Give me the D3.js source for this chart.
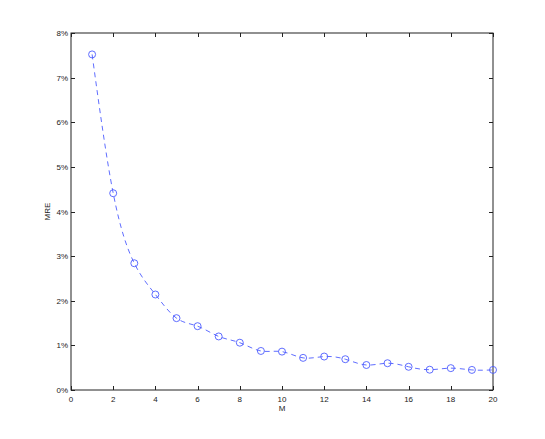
<!DOCTYPE html>
<html><head><meta charset="utf-8">
<script src="https://cdn.jsdelivr.net/npm/d3@7"></script>
<style>body{margin:0;background:#fff}svg{display:block}</style>
</head><body><svg id="c" width="545" height="439"></svg>
<script>
const M = [1,2,3,4,5,6,7,8,9,10,11,12,13,14,15,16,17,18,19,20];
const MRE = [7.52,4.41,2.84,2.14,1.61,1.43,1.20,1.06,0.875,0.86,0.72,0.75,0.69,0.56,0.60,0.52,0.455,0.49,0.45,0.45];
const xTicks = [0,2,4,6,8,10,12,14,16,18,20];
const yTicks = [0,1,2,3,4,5,6,7,8];

const svg = d3.select("#c");
const L=71, R=493, T=33, B=390;
const x = d3.scaleLinear().domain([0,20]).range([L,R]);
const y = d3.scaleLinear().domain([0,8]).range([B,T]);
const font = "Liberation Sans, Arial, sans-serif";

svg.append("rect").attr("x",L).attr("y",T).attr("width",R-L).attr("height",B-T)
  .attr("fill","none").attr("stroke","#222").attr("stroke-width",1);

const tl=4;
const g = svg.append("g");
xTicks.forEach(t=>{
  const px = Math.round(x(t))+0.5;
  g.append("line").attr("x1",px).attr("x2",px).attr("y1",B).attr("y2",B-tl).attr("stroke","#222");
  g.append("line").attr("x1",px).attr("x2",px).attr("y1",T).attr("y2",T+tl).attr("stroke","#222");
  g.append("text").attr("x",x(t)).attr("y",B+12).attr("text-anchor","middle")
    .attr("font-family",font).attr("font-size",8).attr("fill","#222").text(t);
});
yTicks.forEach(t=>{
  const py = Math.round(y(t))+0.5;
  g.append("line").attr("x1",L).attr("x2",L+tl).attr("y1",py).attr("y2",py).attr("stroke","#222");
  g.append("line").attr("x1",R).attr("x2",R-tl).attr("y1",py).attr("y2",py).attr("stroke","#222");
  g.append("text").attr("x",L-3).attr("y",y(t)+3).attr("text-anchor","end")
    .attr("font-family",font).attr("font-size",8).attr("fill","#222").text(t+"%");
});

const data = M.map((m,i)=>[m,MRE[i]]);
const line = d3.line().x(d=>x(d[0])).y(d=>y(d[1])).curve(d3.curveNatural);
svg.append("path").attr("d",line(data)).attr("fill","none").attr("stroke","#4d5cff")
  .attr("stroke-width",0.9).attr("stroke-dasharray","5,4");
svg.selectAll("circle.pt").data(data).enter().append("circle").attr("class","pt")
  .attr("cx",d=>x(d[0])).attr("cy",d=>y(d[1])).attr("r",3.5)
  .attr("fill","none").attr("stroke","#4d5cff").attr("stroke-width",0.9);

svg.append("text").attr("x",(L+R)/2).attr("y",411).attr("text-anchor","middle")
  .attr("font-family",font).attr("font-size",8).attr("fill","#222").text("M");
svg.append("text").attr("transform",`translate(50,${(T+B)/2}) rotate(-90)`).attr("text-anchor","middle")
  .attr("font-family",font).attr("font-size",8).attr("fill","#222").text("MRE");
</script></body></html>
